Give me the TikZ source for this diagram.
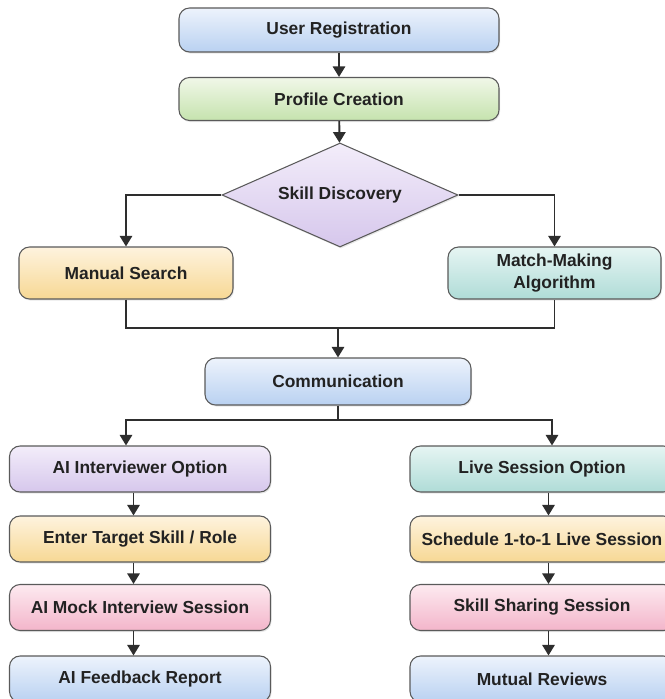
\documentclass[tikz,border=0pt]{standalone}
\usepackage{fontspec}
\setmainfont{Liberation Sans}
\usepackage{tikz}
\usetikzlibrary{arrows.meta}
\usetikzlibrary{shapes.geometric, shadows}

\definecolor{boxline}{HTML}{5A5A5A}
\definecolor{flowline}{HTML}{2E2E2E}
\definecolor{textcol}{HTML}{222222}
\definecolor{blueTop}{HTML}{EDF3FC}
\definecolor{blueBot}{HTML}{B9D1F1}
\definecolor{greenTop}{HTML}{F0F7E8}
\definecolor{greenBot}{HTML}{C6E3AE}
\definecolor{lilacTop}{HTML}{F3EDFA}
\definecolor{lilacBot}{HTML}{D6C7EC}
\definecolor{sandTop}{HTML}{FEF3DE}
\definecolor{sandBot}{HTML}{F7D894}
\definecolor{tealTop}{HTML}{E6F5F3}
\definecolor{tealBot}{HTML}{AFDCD7}
\definecolor{roseTop}{HTML}{FDEAF0}
\definecolor{roseBot}{HTML}{F3B5CA}

\tikzset{
    stagebox/.style={
        draw=boxline, line width=0.6pt, rounded corners=6pt,
        drop shadow={opacity=0.18, shadow xshift=0.6pt, shadow yshift=-0.9pt},
        text=textcol, align=center, inner sep=2pt,
        font=\bfseries\fontsize{9.9}{12}\selectfont
    },
    bluebox/.style={ stagebox, top color=blueTop, bottom color=blueBot },
    greenbox/.style={ stagebox, top color=greenTop, bottom color=greenBot },
    lilacbox/.style={ stagebox, top color=lilacTop, bottom color=lilacBot },
    sandbox/.style={ stagebox, top color=sandTop, bottom color=sandBot },
    tealbox/.style={ stagebox, top color=tealTop, bottom color=tealBot },
    rosebox/.style={ stagebox, top color=roseTop, bottom color=roseBot },
    decision/.style={
        diamond, draw=boxline, line width=0.6pt, aspect=2.3, inner sep=0pt,
        top color=lilacTop, bottom color=lilacBot,
        drop shadow={opacity=0.18, shadow xshift=0.6pt, shadow yshift=-0.9pt},
        text=textcol, font=\bfseries\fontsize{9.9}{12}\selectfont
    },
    flow/.style={ draw=flowline, line width=1.1pt, -{Triangle[width=7pt, length=6pt]} },
    link/.style={ draw=flowline, line width=1.1pt }
}

\begin{document}
\begin{tikzpicture}

	\useasboundingbox[ fill=white ] (0, 0) rectangle (13.28, -13.98);

	\def\colL{2.8}
	\def\colR{10.84}
	\def\colW{5.22cm}
	\def\rowH{0.92cm}
	\def\offL{-0.13cm}
	\def\offR{0.13cm}

	% top of the flow
	\node[ bluebox, minimum width=6.4cm, minimum height=0.88cm ] (ureg) at (6.78, -0.60) {User Registration};
	\node[ greenbox, minimum width=6.4cm, minimum height=0.86cm ] (prof) at (6.78, -1.98) {Profile Creation};
	\node[ decision, minimum width=4.72cm, minimum height=2.08cm ] (disc) at (6.80, -3.90) {Skill Discovery};

	\node[ sandbox, minimum width=4.28cm, minimum height=1.04cm ] (manual) at (2.52, -5.46) {Manual Search};
	\node[ tealbox, minimum width=4.26cm, minimum height=1.04cm ] (match) at (11.09, -5.46) {Match-Making\\ Algorithm};

	\node[ bluebox, minimum width=5.32cm, minimum height=0.94cm ] (comm) at (6.76, -7.63) {Communication};

	% two branches
	\node[ lilacbox, minimum width=\colW, minimum height=\rowH ] (aiopt) at (\colL, -9.38) {AI Interviewer Option};
	\node[ sandbox, minimum width=\colW, minimum height=\rowH ] (target) at (\colL, -10.78) {Enter Target Skill / Role};
	\node[ rosebox, minimum width=\colW, minimum height=\rowH ] (mock) at (\colL, -12.15) {AI Mock Interview Session};
	\node[ bluebox, minimum width=\colW, minimum height=\rowH ] (feed) at (\colL, -13.58) {AI Feedback Report};

	\node[ tealbox, minimum width=5.28cm, minimum height=\rowH ] (live) at (\colR, -9.38) {Live Session Option};
	\node[ sandbox, minimum width=5.28cm, minimum height=\rowH ] (sched) at (\colR, -10.78) {Schedule 1-to-1 Live Session};
	\node[ rosebox, minimum width=5.28cm, minimum height=\rowH ] (share) at (\colR, -12.15) {Skill Sharing Session};
	\node[ bluebox, minimum width=5.28cm, minimum height=\rowH ] (review) at (\colR, -13.58) {Mutual Reviews};

	\coordinate (merge) at (6.76, -6.56);
	\coordinate (split) at (6.76, -8.40);

	\draw[ flow ] (ureg) -- (prof);
	\draw[ flow ] (prof) -- (disc);
	\draw[ flow ] (disc.west) -| (manual.north);
	\draw[ flow ] (disc.east) -| (match.north);

	\draw[ link ] (manual.south) |- (merge) -| (match.south);
	\draw[ flow ] (merge) -- (comm.north);

	\draw[ link ] (comm.south) -- (split);
	\draw[ flow ] (split) -| ([xshift=-0.28cm]aiopt.north);
	\draw[ flow ] (split) -| ([xshift=0.2cm]live.north);

	\draw[ flow ] ([xshift=\offL]aiopt.south) -- ([xshift=\offL]target.north);
	\draw[ flow ] ([xshift=\offL]target.south) -- ([xshift=\offL]mock.north);
	\draw[ flow ] ([xshift=\offL]mock.south) -- ([xshift=\offL]feed.north);
	\draw[ flow ] ([xshift=\offR]live.south) -- ([xshift=\offR]sched.north);
	\draw[ flow ] ([xshift=\offR]sched.south) -- ([xshift=\offR]share.north);
	\draw[ flow ] ([xshift=\offR]share.south) -- ([xshift=\offR]review.north);

\end{tikzpicture}
\end{document}
